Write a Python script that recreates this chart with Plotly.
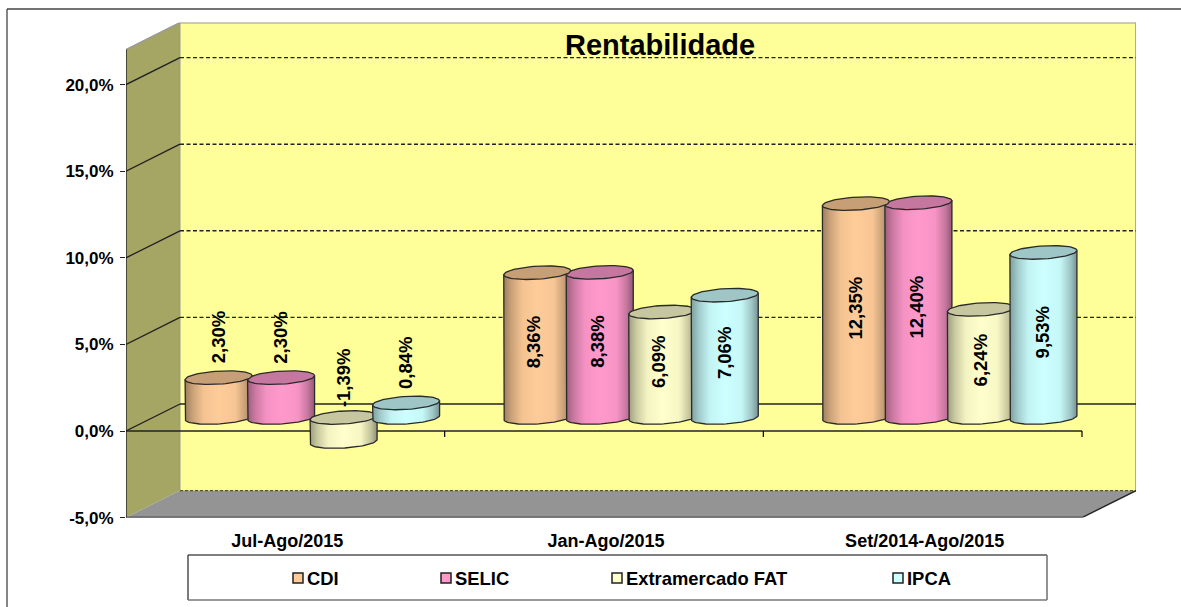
import numpy as np
import plotly.graph_objects as go

categories = ["Jul-Ago/2015", "Jan-Ago/2015", "Set/2014-Ago/2015"]
series_names = ["CDI", "SELIC", "Extramercado FAT", "IPCA"]
cdi = [2.30, 8.36, 12.35]
selic = [2.30, 8.38, 12.40]
extramercado = [-1.39, 6.09, 6.24]
ipca = [0.84, 7.06, 9.53]
y_ticks = [-5, 0, 5, 10, 15, 20]
y_tick_labels = ["-5,0%", "0,0%", "5,0%", "10,0%", "15,0%", "20,0%"]
colors = ["#ffcc99", "#ff99cc", "#ffffcc", "#ccffff"]

W, H = 1181, 607
FONT = "Liberation Sans"
UX = 318.67   # px per category
UY = 17.32    # px per 1%
DX, DY = 54 / UX, 27 / UY   # depth of the 3-D box
YMIN, YMAX = -5, (517 - 22) / UY - 5
XMAX = DX + 3
YTOP = YMAX - DY


def shade(c, f):
    r, g, b = int(c[1:3], 16), int(c[3:5], 16), int(c[5:7], 16)
    return f"rgb({int(r*f)},{int(g*f)},{int(b*f)})"


def px(x):
    return x / W


def py(y):
    return 1 - y / H


fig = go.Figure()
shapes = []


def poly(pts, fill, line=None, lw=1, xref="x", yref="y"):
    path = "M " + " L ".join(f"{a},{b}" for a, b in pts) + " Z"
    shapes.append(dict(type="path", path=path, fillcolor=fill, xref=xref, yref=yref, layer="below",
                       line=dict(color=line or fill, width=lw if line else 0)))


def seg(x0, y0, x1, y1, color="#222222", w=1.3, dash="solid", xref="x", yref="y"):
    shapes.append(dict(type="line", x0=x0, y0=y0, x1=x1, y1=y1, xref=xref, yref=yref, layer="below",
                       line=dict(color=color, width=w, dash=dash)))


# walls and floor
poly([(DX, YMIN + DY), (DX, YMAX), (XMAX, YMAX), (XMAX, YMIN + DY)], "#ffff99")
poly([(0, YMIN), (0, YTOP), (DX, YMAX), (DX, YMIN + DY)], "#a6a664")
poly([(0, YMIN), (3, YMIN), (XMAX, YMIN + DY), (DX, YMIN + DY)], "#949494")
seg(0, YTOP, DX, YMAX, "#999999", 1.6)
seg(DX, YMAX, XMAX, YMAX, "#999999", 1.6)
seg(XMAX, YMAX, XMAX, YMIN + DY, "#aaaaaa", 2)
seg(DX, YMAX, DX, YMIN + DY, "#999999", 1)

for v in y_ticks:
    if v == 0:
        seg(0, 0, DX, DY)
        seg(DX, DY, XMAX, DY, "#222222", 1.3)
    elif v == -5:
        seg(DX, v + DY, XMAX, v + DY, "#555522", 1.2, "3px,2px")
    else:
        seg(0, v, DX, v + DY)
        seg(DX, v + DY, XMAX, v + DY, "#222222", 1.4, "4px,2.5px")
seg(0, 0, 3, 0, "#222222", 1.4)
for i in range(1, 4):
    seg(i, 0, i, -6 / UY, "#000000", 1.2)
seg(0, YMIN, 0, YTOP, "#222222", 1.4)
seg(0, YMIN, 3, YMIN, "#111111", 1.8)
seg(3, YMIN, XMAX, YMIN + DY, "#222222", 1.4)

# cylinders
A = 33.5 / UX
B = 6.5 / UY
T = 2.0 / UY
PITCH = 62.5 / UX
tt_low = np.linspace(np.pi, 2 * np.pi, 40)
tt_all = np.linspace(0, 2 * np.pi, 80)


def body(cx, y0, y1, color):
    xs = np.concatenate([[cx - A], cx + A * np.cos(tt_low), [cx + A, cx - A]])
    ys = np.concatenate([[y1 - T], y0 + B * np.sin(tt_low) + T * np.cos(tt_low), [y1 + T, y1 - T]])
    stops = [(0, .62), (.12, .8), (.28, .96), (.5, 1.0), (.75, .97), (.9, .78), (1, .58)]
    fig.add_trace(go.Scatter(x=xs, y=ys, mode="lines", fill="toself", showlegend=False, hoverinfo="skip",
                             line=dict(color="#2a2a2a", width=1.3),
                             fillgradient=dict(type="horizontal",
                                               colorscale=[[p, shade(color, f)] for p, f in stops])))


def top(cx, y1, color):
    fig.add_trace(go.Scatter(x=cx + A * np.cos(tt_all), y=y1 + B * np.sin(tt_all) + T * np.cos(tt_all),
                             mode="lines", fill="toself", fillcolor=shade(color, .78), showlegend=False,
                             hoverinfo="skip", line=dict(color="#2a2a2a", width=1.3)))


values = [cdi, selic, extramercado, ipca]
annotations = []
label_nudge = {(1, 0): -4, (1, 1): -2, (1, 2): -3, (2, 1): -2}
for g in range(3):
    center = g + 0.5 + DX / 2
    cxs = [center + (s - 1.5) * PITCH for s in range(4)]
    lev = [(DY / 2 + min(values[s][g], 0), DY / 2 + max(values[s][g], 0)) for s in range(4)]
    body(cxs[0], *lev[0], colors[0])
    body(cxs[1], *lev[1], colors[1])
    top(cxs[1], lev[1][1], colors[1])
    top(cxs[0], lev[0][1], colors[0])
    body(cxs[2], *lev[2], colors[2])
    top(cxs[2], lev[2][1], colors[2])
    body(cxs[3], *lev[3], colors[3])
    top(cxs[3], lev[3][1], colors[3])
    for s in range(4):
        v = values[s][g]
        txt = f"{v:.2f}".replace(".", ",") + "%"
        if abs(v) < 4:
            y, ys = lev[s][1], 40
        else:
            y, ys = (lev[s][0] + lev[s][1]) / 2, 3
        annotations.append(dict(x=cxs[s], y=y, yshift=ys, xshift=label_nudge.get((g, s), 0), text=txt,
                                textangle=-90, showarrow=False,
                                font=dict(family=FONT, size=18.5, color="#000000", weight=700),
                                xanchor="center", yanchor="middle"))

# title
annotations.append(dict(x=px(660), y=py(45), xref="paper", yref="paper", text="Rentabilidade", showarrow=False,
                        xanchor="center", yanchor="middle",
                        font=dict(family=FONT, size=29, color="#000000", weight=700)))

# chart frame
seg(px(7), py(9), px(1181), py(9), "#444444", 1.3, xref="paper", yref="paper")
seg(px(7), py(9), px(7), py(607), "#444444", 1.3, xref="paper", yref="paper")

# legend
poly([(px(188), py(555)), (px(1047), py(555)), (px(1047), py(600)), (px(188), py(600))], "#ffffff",
     xref="paper", yref="paper")
seg(px(188), py(555), px(1047), py(555), "#000000", 1.2, xref="paper", yref="paper")
seg(px(188), py(555), px(188), py(600), "#222222", 1.2, xref="paper", yref="paper")
seg(px(188), py(600), px(1047), py(600), "#777777", 1.6, xref="paper", yref="paper")
seg(px(1047), py(555), px(1047), py(600), "#777777", 1.6, xref="paper", yref="paper")
marker_x = [293, 441, 612, 893]
for name, mx, c in zip(series_names, marker_x, colors):
    poly([(px(mx), py(573)), (px(mx + 10), py(573)), (px(mx + 10), py(583)), (px(mx), py(583))], c,
         line="#222222", lw=1.5, xref="paper", yref="paper")
    annotations.append(dict(x=px(mx + 12), y=py(578), xref="paper", yref="paper", text=name, showarrow=False,
                            xanchor="left", yanchor="middle",
                            font=dict(family=FONT, size=18.4, color="#000000", weight=700)))

fig.update_layout(
    width=W, height=H, margin=dict(l=0, r=0, t=0, b=0), autosize=False,
    paper_bgcolor="#ffffff", plot_bgcolor="rgba(0,0,0,0)", showlegend=False,
    shapes=shapes, annotations=annotations,
    xaxis=dict(domain=[px(126), px(1136)], range=[0, XMAX], showgrid=False, zeroline=False, showline=False,
               automargin=False,
               tickmode="array", tickvals=[i + 0.5 + 2 / UX for i in range(3)], ticktext=categories, ticks="",
               ticklabelstandoff=10, tickfont=dict(family=FONT, size=18, color="#000000", weight=700)),
    yaxis=dict(domain=[py(517.6), py(22.6)], range=[YMIN, YMAX], showgrid=False, zeroline=False, showline=False,
               automargin=False,
               tickmode="array", tickvals=y_ticks, ticktext=y_tick_labels, ticks="outside", ticklen=5,
               tickcolor="#222222", tickwidth=1.2, ticklabelstandoff=3,
               tickfont=dict(family=FONT, size=17, color="#000000", weight=700)),
)

fig.write_html("out.html", post_script="document.body.style.margin='0';", config={"displayModeBar": False})
